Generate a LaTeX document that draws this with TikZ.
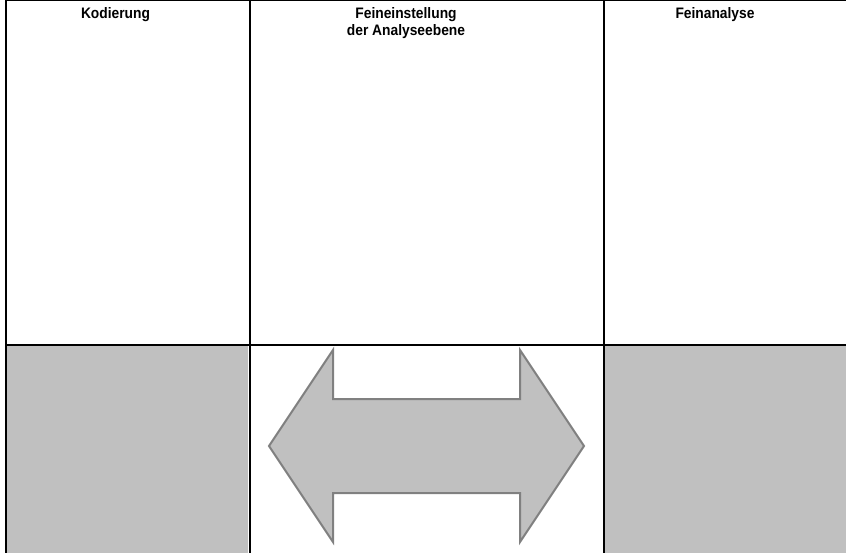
\documentclass[tikz,border=0pt]{standalone}
\usepackage{fontspec}
\setmainfont{Liberation Sans}
\definecolor{boxgray}{HTML}{C0C0C0}
\definecolor{edgegray}{HTML}{808080}
\newcommand{\tallhead}[1]{\scalebox{1}[1.1]{\begin{tabular}{@{}c@{}}#1\end{tabular}}}
\begin{document}
\begin{tikzpicture}[x=1pt,y=-1pt,
  grid/.style={draw=black,line width=1.5pt},
  panel/.style={fill=boxgray},
  head/.style={font=\fontsize{13.8}{15}\selectfont\bfseries,anchor=north,inner sep=0pt}]
\useasboundingbox (0,0) rectangle (846,553);
\fill[white] (0,0) rectangle (846,553);
% gray panels
\fill[panel] (7,346) rectangle (248,553);
\fill[panel] (605,346) rectangle (846,553);
% grid lines
\draw[grid] (6,0.75) -- (846,0.75);
\draw[grid] (6,0) -- (6,553);
\draw[grid] (250,0) -- (250,553);
\draw[grid] (604,0) -- (604,553);
\draw[grid] (6,345) -- (846,345);
% headers
\node[head] (k) at (115.5,7) {\tallhead{Kodierung}};
\node[head] (f) at (406,7) {\tallhead{Feineinstellung\\der Analyseebene}};
\node[head] (a) at (715,7) {\tallhead{Feinanalyse}};
% double arrow
\draw[fill=boxgray,draw=edgegray,line width=2pt,line join=miter]
  (269,446) -- (333,350) -- (333,399) -- (520,399) -- (520,350) -- (584,446)
  -- (520,542) -- (520,493) -- (333,493) -- (333,542) -- cycle;
\end{tikzpicture}
\end{document}
